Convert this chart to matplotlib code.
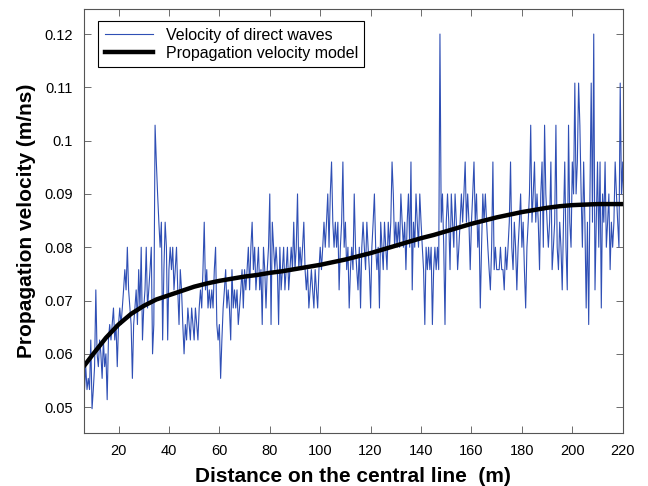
import numpy as np
import matplotlib.pyplot as plt

plt.rcParams['font.family'] = ['Liberation Sans', 'DejaVu Sans']

# measured velocity of direct waves (m/ns), one sample every 0.5 m starting at 6 m
velocity = [
    0.0554, 0.0533, 0.0576, 0.0533, 0.0554, 0.0533, 0.0626, 0.0497, 0.0533, 0.0576,
    0.0720, 0.0600, 0.0576, 0.0626, 0.0600, 0.0554, 0.0626, 0.0576, 0.0600, 0.0514,
    0.0626, 0.0655, 0.0626, 0.0655, 0.0686, 0.0626, 0.0655, 0.0576, 0.0655, 0.0686,
    0.0655, 0.0686, 0.0720, 0.0758, 0.0720, 0.0800, 0.0720, 0.0686, 0.0655, 0.0554,
    0.0655, 0.0686, 0.0720, 0.0655, 0.0758, 0.0686, 0.0800, 0.0626, 0.0686, 0.0720,
    0.0800, 0.0686, 0.0720, 0.0758, 0.0800, 0.0600, 0.0655, 0.1029, 0.0960, 0.0900,
    0.0847, 0.0800, 0.0847, 0.0626, 0.0758, 0.0847, 0.0800, 0.0626, 0.0758, 0.0800,
    0.0758, 0.0800, 0.0720, 0.0758, 0.0800, 0.0720, 0.0655, 0.0758, 0.0720, 0.0655,
    0.0600, 0.0655, 0.0626, 0.0686, 0.0655, 0.0626, 0.0686, 0.0655, 0.0626, 0.0686,
    0.0655, 0.0626, 0.0686, 0.0720, 0.0686, 0.0758, 0.0847, 0.0720, 0.0758, 0.0686,
    0.0720, 0.0686, 0.0720, 0.0686, 0.0758, 0.0800, 0.0655, 0.0626, 0.0655, 0.0554,
    0.0626, 0.0686, 0.0720, 0.0758, 0.0686, 0.0720, 0.0686, 0.0626, 0.0758, 0.0686,
    0.0720, 0.0686, 0.0720, 0.0655, 0.0686, 0.0720, 0.0758, 0.0686, 0.0758, 0.0720,
    0.0758, 0.0800, 0.0720, 0.0800, 0.0847, 0.0758, 0.0800, 0.0720, 0.0758, 0.0800,
    0.0720, 0.0758, 0.0655, 0.0800, 0.0758, 0.0686, 0.0758, 0.0800, 0.0900, 0.0655,
    0.0847, 0.0800, 0.0758, 0.0800, 0.0758, 0.0655, 0.0800, 0.0720, 0.0758, 0.0800,
    0.0720, 0.0758, 0.0800, 0.0720, 0.0758, 0.0800, 0.0758, 0.0847, 0.0758, 0.0800,
    0.0900, 0.0758, 0.0800, 0.0758, 0.0800, 0.0847, 0.0758, 0.0720, 0.0758, 0.0686,
    0.0720, 0.0758, 0.0720, 0.0686, 0.0758, 0.0720, 0.0686, 0.0758, 0.0800, 0.0758,
    0.0800, 0.0847, 0.0800, 0.0847, 0.0900, 0.0800, 0.0900, 0.0960, 0.0847, 0.0800,
    0.0847, 0.0800, 0.0847, 0.0720, 0.0800, 0.0847, 0.0960, 0.0800, 0.0847, 0.0758,
    0.0800, 0.0686, 0.0758, 0.0800, 0.0758, 0.0900, 0.0800, 0.0758, 0.0720, 0.0800,
    0.0686, 0.0800, 0.0847, 0.0800, 0.0758, 0.0847, 0.0800, 0.0758, 0.0686, 0.0800,
    0.0847, 0.0900, 0.0800, 0.0758, 0.0800, 0.0686, 0.0847, 0.0800, 0.0758, 0.0847,
    0.0800, 0.0758, 0.0847, 0.0800, 0.0847, 0.0960, 0.0900, 0.0800, 0.0847, 0.0800,
    0.0847, 0.0800, 0.0900, 0.0847, 0.0800, 0.0847, 0.0758, 0.0847, 0.0900, 0.0800,
    0.0960, 0.0720, 0.0847, 0.0800, 0.0900, 0.0847, 0.0800, 0.0900, 0.0847, 0.0800,
    0.0758, 0.0655, 0.0800, 0.0758, 0.0800, 0.0758, 0.0800, 0.0655, 0.0758, 0.0800,
    0.0758, 0.0800, 0.0758, 0.1200, 0.0847, 0.0900, 0.0800, 0.0655, 0.0847, 0.0900,
    0.0847, 0.0758, 0.0900, 0.0847, 0.0800, 0.0900, 0.0847, 0.0758, 0.0800, 0.0847,
    0.0900, 0.0847, 0.0900, 0.0960, 0.0847, 0.0900, 0.0847, 0.0758, 0.0847, 0.0900,
    0.0960, 0.0847, 0.0900, 0.0800, 0.0847, 0.0686, 0.0800, 0.0900, 0.0847, 0.0900,
    0.0847, 0.0800, 0.0758, 0.0720, 0.0800, 0.0960, 0.0758, 0.0800, 0.0758, 0.0758,
    0.0758, 0.0800, 0.0758, 0.0758, 0.0720, 0.0800, 0.0758, 0.0800, 0.0847, 0.0960,
    0.0800, 0.0758, 0.0847, 0.0800, 0.0720, 0.0800, 0.0847, 0.0900, 0.0800, 0.0847,
    0.0758, 0.0686, 0.0800, 0.0847, 0.0900, 0.1029, 0.0847, 0.0900, 0.0960, 0.0847,
    0.0900, 0.0847, 0.0758, 0.0900, 0.0960, 0.0800, 0.1029, 0.0900, 0.0847, 0.0800,
    0.0847, 0.0960, 0.0758, 0.0800, 0.0847, 0.1029, 0.0800, 0.0758, 0.0847, 0.0800,
    0.0720, 0.0847, 0.0960, 0.0800, 0.0720, 0.1029, 0.0847, 0.0800, 0.0960, 0.0900,
    0.1108, 0.0900, 0.0960, 0.1108, 0.1029, 0.0900, 0.0800, 0.0960, 0.0847, 0.0686,
    0.0847, 0.0655, 0.0900, 0.1108, 0.0847, 0.1200, 0.0720, 0.0847, 0.0960, 0.0800,
    0.0960, 0.0686, 0.0900, 0.0847, 0.0960, 0.0800, 0.0847, 0.0900, 0.0758, 0.0847,
    0.0800, 0.0847, 0.0960, 0.0900, 0.0847, 0.0800, 0.1108, 0.0900, 0.0960, 0.0847,
]
distance = 6.0 + 0.5 * np.arange(len(velocity))

# fitted propagation velocity model
model_x = [6.3, 10, 15, 20, 25, 30, 35, 40, 45, 50, 55, 60, 65, 70, 75, 80, 85, 90,
           95, 100, 105, 110, 115, 120, 125, 130, 135, 140, 145, 150, 155, 160, 165,
           170, 175, 180, 185, 190, 195, 200, 205, 210, 215, 220]
model_v = [0.0577, 0.0600, 0.0630, 0.0655, 0.0675, 0.0690, 0.0702, 0.0710, 0.0718,
           0.0726, 0.0732, 0.0737, 0.0741, 0.0745, 0.0748, 0.0752, 0.0755, 0.0759,
           0.0763, 0.0767, 0.0772, 0.0777, 0.0783, 0.0789, 0.0796, 0.0803, 0.0810,
           0.0817, 0.0823, 0.0830, 0.0837, 0.0844, 0.0850, 0.0856, 0.0861, 0.0866,
           0.0870, 0.0874, 0.0877, 0.0879, 0.0880, 0.0881, 0.0881, 0.0881]

fig = plt.figure(figsize=(6.48, 4.86), dpi=100)
ax = fig.add_axes([0.1296, 0.1085, 0.8314, 0.873])

ax.plot(distance, velocity, color='#2f4fb5', lw=0.8, label='Velocity of direct waves')
ax.plot(model_x, model_v, color='black', lw=3.2, label='Propagation velocity model')

ax.set_xlim(6.3, 220)
ax.set_ylim(0.0451, 0.1247)
ax.set_xticks(range(20, 221, 20))
ax.set_yticks([0.05, 0.06, 0.07, 0.08, 0.09, 0.1, 0.11, 0.12])
ax.set_yticklabels(['0.05', '0.06', '0.07', '0.08', '0.09', '0.1', '0.11', '0.12'])
ax.tick_params(direction='in', top=True, right=True, length=5, width=0.6,
               color='#555555', labelsize=10.5, pad=8)
for s in ax.spines.values():
    s.set_color('#555555')
    s.set_linewidth(0.8)

ax.set_xlabel('Distance on the central line  (m)', fontsize=15, fontweight='bold', labelpad=6)
ax.set_ylabel('Propagation velocity (m/ns)', fontsize=15, fontweight='bold', labelpad=6)

leg = ax.legend(loc='upper left', fontsize=11.5, fancybox=False, framealpha=1,
                edgecolor='black', handlelength=3, borderpad=0.4, labelspacing=0.2,
                bbox_to_anchor=(0.012, 0.99))
leg.get_frame().set_linewidth(0.8)

plt.savefig('out.png', dpi=100)
